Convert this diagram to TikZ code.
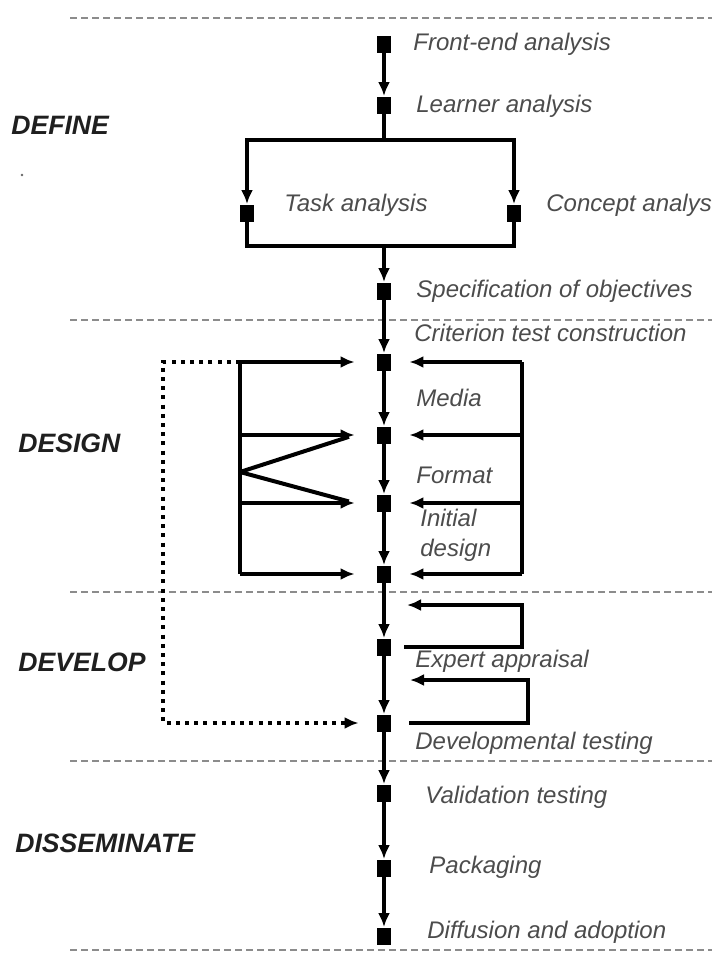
\documentclass[tikz,border=0pt]{standalone}
\usepackage{fontspec}
\setmainfont{Liberation Sans}
\usetikzlibrary{arrows.meta,positioning}

\tikzset{
  box/.style = {fill=black, minimum width=7pt, minimum height=8.5pt, inner sep=0pt},
  line/.style = {line width=2pt},
  flow/.style = {line, -{Latex[length=7pt,width=6pt]}},
  back/.style = {line width=2.2pt, dash pattern=on 2pt off 2.6pt, -{Latex[length=7pt,width=6pt]}},
  sep/.style = {black!45, line width=0.7pt, dash pattern=on 3.5pt off 2pt},
  lbl/.style = {anchor=west, inner sep=0pt, text=black!70,
    font=\fontsize{12}{15}\selectfont\itshape},
  phase/.style = {anchor=west, inner sep=0pt, text=black!88,
    font=\fontsize{13.3}{15}\selectfont\bfseries\itshape}
}

\begin{document}
\begin{tikzpicture}[x=0.5pt,y=-0.5pt]
\useasboundingbox (0,0) rectangle (712,953);
% phase borders
\foreach \y in {18,320,592,761,950}
  \draw[sep] (70,\y) -- (712,\y);
\fill[black!60] (22,175) circle (1.3);

% steps
\node[box] (fe) at (384,44) {};
\node[box] (la) at (384,105) {};
\node[box] (ta) at (247,213) {};
\node[box] (ca) at (514,213) {};
\node[box] (so) at (384,291) {};
\node[box] (ct) at (384,362) {};
\node[box] (md) at (384,435) {};
\node[box] (fm) at (384,503) {};
\node[box] (id) at (384,574) {};
\node[box] (ea) at (384,647) {};
\node[box] (dt) at (384,723) {};
\node[box] (vt) at (384,793) {};
\node[box] (pk) at (384,868) {};
\node[box] (da) at (384,936) {};

\node[lbl] at (413,44) {Front-end analysis};
\node[lbl] at (416,106) {Learner analysis};
\node[lbl] at (284,205) {Task analysis};
\node[lbl] at (546,205) {Concept analysis};
\node[lbl] at (416,291) {Specification of objectives};
\node[lbl] at (414,333) {Criterion test construction};
\node[lbl] at (416,398) {Media};
\node[lbl] at (416,475) {Format};
\node[lbl, align=left] at (420,535) {Initial\\design};
\node[lbl] at (415,661) {Expert appraisal};
\node[lbl] at (415,743) {Developmental testing};
\node[lbl] at (425,797) {Validation testing};
\node[lbl] at (429,867) {Packaging};
\node[lbl] at (427,932) {Diffusion and adoption};

\node[phase] at (11,125) {DEFINE};
\node[phase] at (18,443) {DESIGN};
\node[phase] at (18,662) {DEVELOP};
\node[phase] at (15,843) {DISSEMINATE};

% main line
\foreach \a/\b in {fe/la,so/ct,ct/md,md/fm,fm/id,id/ea,ea/dt,dt/vt,vt/pk,pk/da}
  \draw[flow] (\a) -- (\b);

% define: split and join
\coordinate (split) at (384,140);
\coordinate (join) at (384,246);
\draw[line] (la) -- (split);
\draw[flow] (split) -| (ta);
\draw[flow] (split) -| (ca);
\draw[line] (ta) |- (join) -| (ca);
\draw[flow] (join) -- (so);

% design: inputs from both sides
\foreach \s in {ct,md,fm,id} {
  \coordinate[left=11pt of \s] (\s-in);
  \coordinate[right=9pt of \s] (\s-out);
}
\coordinate (lt) at (240,362);
\coordinate (lb) at (240,574);
\coordinate (rt) at (522,362);
\coordinate (rb) at (522,574);
\draw[line] (lt) -- (lb);
\draw[line] (rt) -- (rb);
\foreach \s in {ct,md,fm,id} {
  \draw[flow] (\s-in -| lt) -- (\s-in);
  \draw[flow] (\s-out -| rt) -- (\s-out);
}
\coordinate (fork) at (240,472);
\draw[line, shorten <=3pt] (md-in) -- (fork);
\draw[line, shorten <=3pt] (fm-in) -- (fork);

% develop: loops back
\coordinate[right=6.5pt of ea] (ea-out);
\coordinate (loop1) at (522,605);
\coordinate (ea-back) at (407,605);
\draw[flow] (ea-out) -| (loop1) -- (ea-back);
\coordinate[right=9pt of dt] (dt-out);
\coordinate (loop2) at (528,680);
\coordinate (dt-back) at (410,680);
\draw[flow] (dt-out) -| (loop2) -- (dt-back);

% dotted return
\coordinate (dl) at (163,362);
\coordinate[left=9pt of dt] (dt-in);
\draw[back] (lt) -- (dl) |- (dt-in);
\end{tikzpicture}
\end{document}
